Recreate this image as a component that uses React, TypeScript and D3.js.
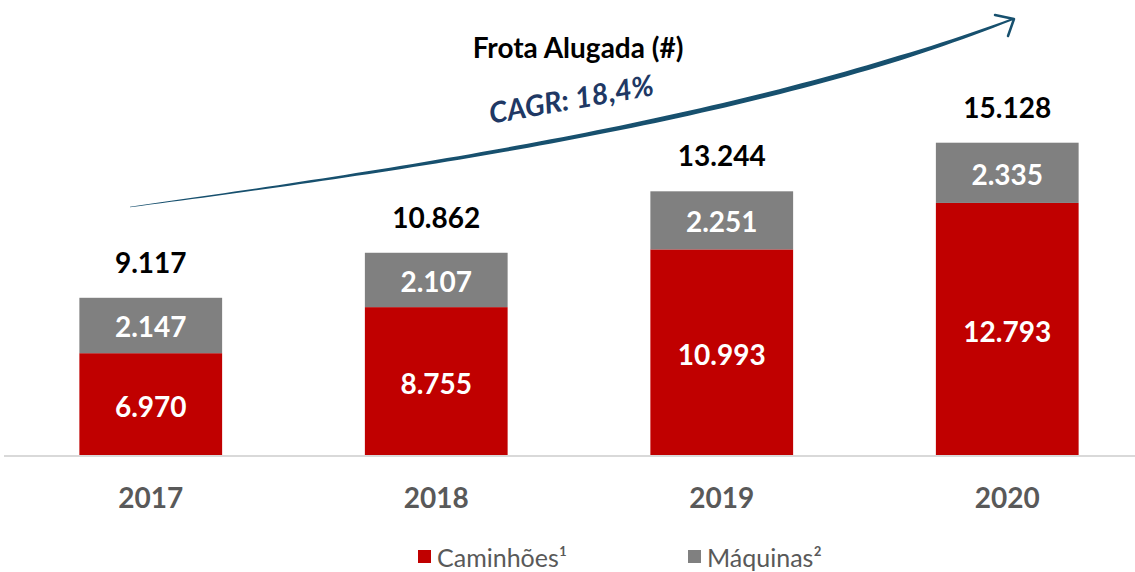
import React from "react";
import * as d3 from "d3";

const years = ["2017", "2018", "2019", "2020"];
const caminhoes = [6970, 8755, 10993, 12793];
const maquinas = [2147, 2107, 2251, 2335];
const totals = [9117, 10862, 13244, 15128];
const seriesNames = ["Caminhões¹", "Máquinas²"];
const title = "Frota Alugada (#)";
const cagrLabel = "CAGR: 18,4%";

const W = 1135;
const H = 572;
const RED = "#C00000";
const GRAY = "#808080";
const ARROW = "#17506e";
const FONT = "Lato, 'Open Sans', sans-serif";
const fmt = (v: number) => d3.format(",")(v).replace(/,/g, ".");

export default function App() {
  const x = d3.scaleBand<string>().domain(years).range([8, 1150]).paddingInner(0.5).paddingOuter(0.25);
  const y = d3.scaleLinear().domain([3024, 15000]).range([455, 146]);
  const bw = x.bandwidth();

  // tapered growth arrow (cubic bezier)
  const P = [
    [130, 207],
    [400, 170],
    [750, 120],
    [1013, 19],
  ];
  const N = 80;
  const left: [number, number][] = [];
  const right: [number, number][] = [];
  for (let i = 0; i <= N; i++) {
    const t = i / N;
    const u = 1 - t;
    const b = [u * u * u, 3 * u * u * t, 3 * u * t * t, t * t * t];
    const db = [-3 * u * u, 3 * u * u - 6 * u * t, 6 * u * t - 3 * t * t, 3 * t * t];
    const bx = b.reduce((s, w, k) => s + w * P[k][0], 0);
    const by = b.reduce((s, w, k) => s + w * P[k][1], 0);
    const dx = db.reduce((s, w, k) => s + w * P[k][0], 0);
    const dy = db.reduce((s, w, k) => s + w * P[k][1], 0);
    const len = Math.hypot(dx, dy);
    const nx = -dy / len;
    const ny = dx / len;
    let w = 0.3 + 2.2 * Math.sin((Math.PI / 2) * Math.min(t / 0.8, 1));
    if (t > 0.85) w *= 1 - (t - 0.85) * 4;
    left.push([bx + nx * w, by + ny * w]);
    right.push([bx - nx * w, by - ny * w]);
  }
  const poly = [...left, ...right.reverse()];
  const polyPath = "M" + poly.map((p) => p[0].toFixed(2) + "," + p[1].toFixed(2)).join("L") + "Z";
  const tip = P[3];

  return (
    <svg width={W} height={H} style={{ position: "absolute", left: 0, top: 0, background: "#fff" }}>
      <rect width={W} height={H} fill="#fff" />
      {/* axis baseline */}
      <line x1={4} x2={W} y1={456} y2={456} stroke="#d9d9d9" strokeWidth={2} />
      {years.map((yr, i) => {
        const x0 = x(yr)!;
        const cx = x0 + bw / 2;
        const rTop = y(caminhoes[i]);
        const gTop = y(caminhoes[i] + maquinas[i]);
        return (
          <g key={yr}>
            <rect x={x0} y={rTop} width={bw} height={455 - rTop} fill={RED} />
            <rect x={x0} y={gTop} width={bw} height={rTop - gTop} fill={GRAY} />
            <text x={cx} y={(rTop + 455) / 2 + 2} textAnchor="middle" dominantBaseline="central" fill="#fff" fontFamily={FONT} fontWeight={700} fontSize={28}>
              {fmt(caminhoes[i])}
            </text>
            <text x={cx} y={(gTop + rTop) / 2 + 1} textAnchor="middle" dominantBaseline="central" fill="#fff" fontFamily={FONT} fontWeight={700} fontSize={28}>
              {fmt(maquinas[i])}
            </text>
            <text x={cx} y={y(totals[i]) - 36} textAnchor="middle" dominantBaseline="central" fill="#000" fontFamily={FONT} fontWeight={700} fontSize={28}>
              {fmt(totals[i])}
            </text>
            <text x={cx} y={497} textAnchor="middle" dominantBaseline="central" fill="#595959" fontFamily={FONT} fontWeight={700} fontSize={28}>
              {yr}
            </text>
          </g>
        );
      })}
      {/* title */}
      <text x={578} y={47} textAnchor="middle" dominantBaseline="central" fill="#000" fontFamily={FONT} fontWeight={700} fontSize={28}>
        {title}
      </text>
      {/* growth arrow */}
      <path d={polyPath} fill={ARROW} />
      <path d={`M${tip[0] - 18},${tip[1] - 4} L${tip[0] + 1},${tip[1]} L${tip[0] - 5},${tip[1] + 17}`} fill="none" stroke={ARROW} strokeWidth={2.5} strokeLinecap="round" strokeLinejoin="round" />
      <text x={571} y={98} textAnchor="middle" dominantBaseline="central" fill="#203864" fontFamily={FONT} fontWeight={700} fontStyle="italic" fontSize={29} transform="rotate(-10 571 98)">
        {cagrLabel}
      </text>
      {/* legend */}
      <rect x={418} y={550} width={13} height={13} fill={RED} />
      <text x={437} y={557} dominantBaseline="central" fill="#595959" fontFamily={FONT} fontSize={25}>
        {seriesNames[0]}
      </text>
      <rect x={688} y={550} width={13} height={13} fill={GRAY} />
      <text x={707} y={557} dominantBaseline="central" fill="#595959" fontFamily={FONT} fontSize={25}>
        {seriesNames[1]}
      </text>
    </svg>
  );
}
